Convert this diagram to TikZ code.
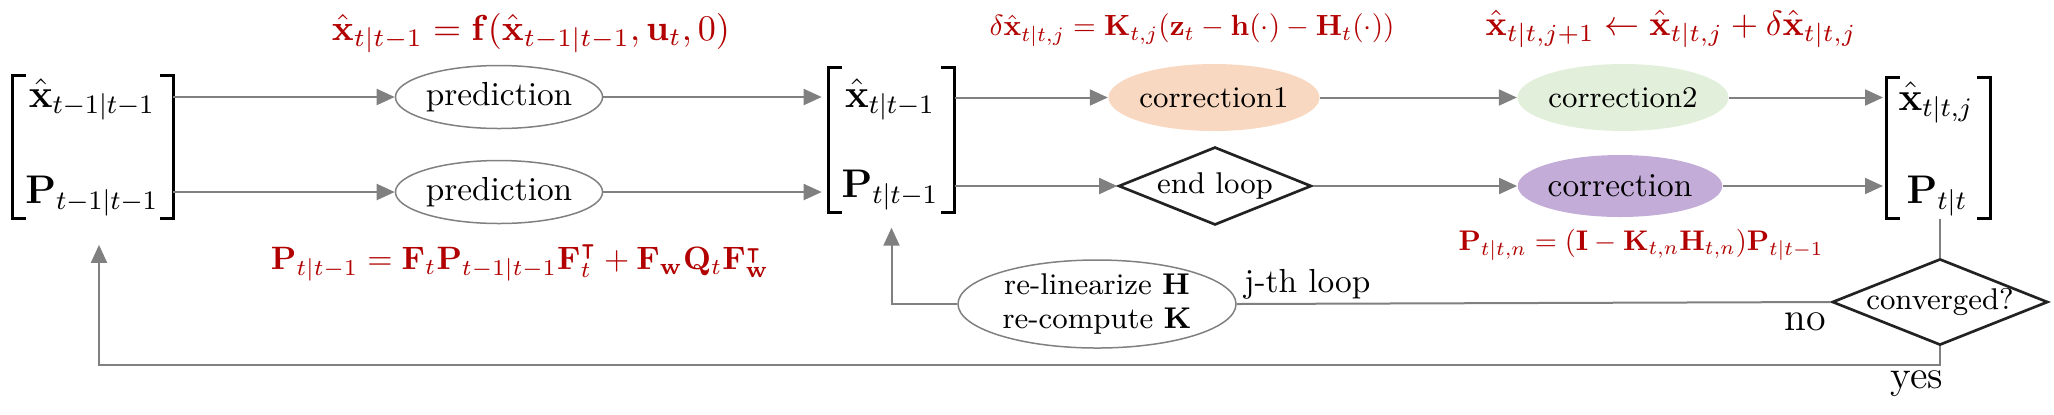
\documentclass[tikz,border=0pt]{standalone}
\usepackage{amsmath,amssymb,graphicx}
\usetikzlibrary{arrows.meta,shapes.geometric,calc}
\definecolor{redf}{RGB}{178,0,0}
\definecolor{arrgray}{RGB}{128,128,128}
\definecolor{peach}{RGB}{248,216,192}
\definecolor{lgreen}{RGB}{226,239,218}
\definecolor{lpurple}{RGB}{196,172,216}
\definecolor{dk}{RGB}{34,34,34}
\tikzset{
  conn/.style={draw=arrgray, line width=0.6pt},
  arr/.style={conn, -{Triangle[length=5.4pt,width=4.8pt]}},
  ellg/.style={ellipse, draw=arrgray, line width=0.45pt, inner sep=0pt},
  ellf/.style={ellipse, inner sep=0pt},
  dia/.style={diamond, draw=dk, line width=0.8pt, inner sep=0pt},
  matbox/.style={inner sep=0pt},
  brk/.style={draw=black, line width=0.9pt},
  formula/.style={text=redf, inner sep=0pt},
  entry/.style={font=\large, inner sep=0pt, anchor=base},
}
\begin{document}
\begin{tikzpicture}[x=0.3pt,y=-0.3pt]
\useasboundingbox (0,0) rectangle (2054,414);
% matrices (bracket areas)
\node[matbox, minimum width=47.7pt, minimum height=42.3pt] (lm) at (93,147) {};
\node[matbox, minimum width=37.5pt, minimum height=43.2pt] (mm) at (891.5,140) {};
\node[matbox, minimum width=30.9pt, minimum height=42pt] (rm) at (1938.5,148) {};
\foreach \m in {lm,mm,rm}{
  \draw[brk] ([xshift=4pt]\m.north west) -- (\m.north west) -- (\m.south west) -- ([xshift=4pt]\m.south west);
  \draw[brk] ([xshift=-4pt]\m.north east) -- (\m.north east) -- (\m.south east) -- ([xshift=-4pt]\m.south east);
}
\node[entry] (lx) at (92,107) {$\hat{\mathbf x}_{t-1|t-1}$};
\node[entry] (lp) at (92,203) {$\mathbf P_{t-1|t-1}$};
\node[entry] (mx) at (890,107) {$\hat{\mathbf x}_{t|t-1}$};
\node[entry] (mp) at (890,197) {$\mathbf P_{t|t-1}$};
\node[entry] (rx) at (1936,110) {$\hat{\mathbf x}_{t|t,j}$};
\node[entry] (rp) at (1937,203) {$\mathbf P_{t|t}$};
% process nodes
\node[ellg, minimum width=57pt, minimum height=18.9pt] (pred1) at (499,97) {prediction};
\node[ellg, minimum width=57pt, minimum height=18.9pt] (pred2) at (499,192) {prediction};
\node[ellf, fill=peach, minimum width=54.6pt, minimum height=20.1pt, font=\small] (corr1) at (1214,97.5) {correction1};
\node[ellf, fill=lgreen, minimum width=54.3pt, minimum height=20.1pt, font=\small] (corr2) at (1623,97.5) {correction2};
\node[dia, aspect=2.5, minimum width=57.9pt, minimum height=23.4pt, font=\small] (endl) at (1215,186) {end loop};
\node[ellf, fill=lpurple, minimum width=56.4pt, minimum height=18.6pt] (corr) at (1620,186) {correction};
\node[dia, aspect=2.5, minimum width=62.7pt, minimum height=25.5pt, font=\small] (conv) at (1940,302) {converged?};
\node[ellg, minimum width=83.4pt, minimum height=26.4pt, align=center, font=\fontsize{9}{10}\selectfont] (relin) at (1097,304) {re-linearize $\mathbf H$\\re-compute $\mathbf K$};
% formulas
\node[formula] (f1) at (531,33) {\resizebox{119.4pt}{!}{$\hat{\mathbf x}_{t|t-1} = \mathbf f(\hat{\mathbf x}_{t-1|t-1}, \mathbf u_t, 0)$}};
\node[formula] (f2) at (1192,30) {\resizebox{121.5pt}{!}{$\delta\hat{\mathbf x}_{t|t,j} = \mathbf K_{t,j}(\mathbf z_t - \mathbf h(\cdot) - \mathbf H_t(\cdot))$}};
\node[formula] (f3) at (1671,29) {\resizebox{111.3pt}{!}{$\hat{\mathbf x}_{t|t,j+1} \leftarrow \hat{\mathbf x}_{t|t,j} + \delta\hat{\mathbf x}_{t|t,j}$}};
\node[formula] (f4) at (1641,245) {\resizebox{109.5pt}{!}{$\mathbf P_{t|t,n} = (\mathbf I - \mathbf K_{t,n}\mathbf H_{t,n})\mathbf P_{t|t-1}$}};
\node[formula] (f5) at (520,263) {\resizebox{149.4pt}{!}{$\mathbf P_{t|t-1} = \mathbf F_t\mathbf P_{t-1|t-1}\mathbf F_t^{\intercal} + \mathbf F_{\mathbf w}\mathbf Q_t\mathbf F_{\mathbf w}^{\intercal}$}};
% labels
\node[inner sep=0pt, anchor=base] (no) at (1805,330) {\large no};
\node[inner sep=0pt, anchor=base] (yes) at (1917,388) {\large yes};
% connectors
\draw[arr] (lm.east |- pred1) -- (pred1);
\draw[arr] (lm.east |- pred2) -- (pred2);
\draw[arr, shorten >=2pt] (pred1) -- (pred1 -| mm.west);
\draw[arr, shorten >=2pt] (pred2) -- (pred2 -| mm.west);
\draw[arr] (mm.east |- corr1) -- (corr1);
\draw[arr] (mm.east |- endl) -- (endl);
\draw[arr] (corr1) -- (corr2);
\draw[arr, shorten >=1pt] (corr2) -- (corr2 -| rm.west);
\draw[arr] (endl) -- (corr);
\draw[arr, shorten >=1pt] (corr) -- (corr -| rm.west);
\draw[conn] (rm.south -| conv) -- (conv.north);
\draw[conn] (relin.east) -- node[pos=0, anchor=south west, inner sep=2pt, yshift=-1pt] (jl) {j-th loop} (conv.west);
\draw[arr, shorten >=4.5pt] (relin.west) -| (mm.south);
\coordinate (bl) at (99,365);
\draw[arr, shorten >=8pt] (conv.south) -- (conv.south |- bl) -- (bl) -- (bl |- lm.south);
\end{tikzpicture}
\end{document}
